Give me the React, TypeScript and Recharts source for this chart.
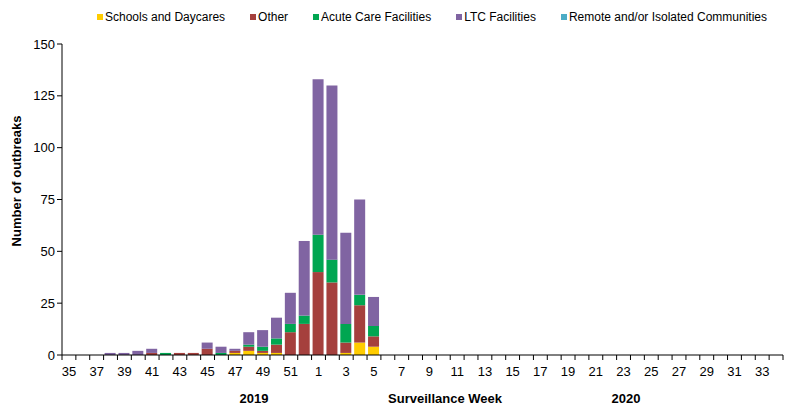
import React from 'react';
import { BarChart, Bar, XAxis, YAxis, Legend } from 'recharts';

const weeks = [
  '35', '36', '37', '38', '39', '40', '41', '42', '43', '44', '45', '46', '47', '48', '49', '50', '51', '52',
  '1', '2', '3', '4', '5', '6', '7', '8', '9', '10', '11', '12', '13', '14', '15', '16', '17', '18', '19', '20',
  '21', '22', '23', '24', '25', '26', '27', '28', '29', '30', '31', '32', '33', '34',
];

// 2019 wk35 .. 2020 wk5, the rest of the season is zero
const schools = [0, 0, 0, 0, 0, 0, 0, 0, 0, 0, 0, 0, 1, 2, 1, 1, 0, 0, 0, 0, 1, 6, 4];
const other = [0, 0, 0, 0, 0, 0, 1, 0, 1, 1, 3, 0, 1, 2, 1, 4, 11, 15, 40, 35, 5, 18, 5];
const acute = [0, 0, 0, 0, 0, 0, 0, 1, 0, 0, 0, 1, 0, 1, 2, 3, 4, 4, 18, 11, 9, 5, 5];
const ltc = [0, 0, 0, 1, 1, 2, 2, 0, 0, 0, 3, 3, 1, 6, 8, 10, 15, 36, 75, 84, 44, 46, 14];
const remote = [0, 0, 0, 0, 0, 0, 0, 0, 0, 0, 0, 0, 0, 0, 0, 0, 0, 0, 0, 0, 0, 0, 0];

const yTicks = [0, 25, 50, 75, 100, 125, 150];

const series = [
  { key: 'schools', name: 'Schools and Daycares', color: '#FFCC00' },
  { key: 'other', name: 'Other', color: '#A5403D' },
  { key: 'acute', name: 'Acute Care Facilities', color: '#00A651' },
  { key: 'ltc', name: 'LTC Facilities', color: '#8064A2' },
  { key: 'remote', name: 'Remote and/or Isolated Communities', color: '#4BACC6' },
];

const data = weeks.map((w, i) => ({
  week: w,
  schools: schools[i] ?? 0,
  other: other[i] ?? 0,
  acute: acute[i] ?? 0,
  ltc: ltc[i] ?? 0,
  remote: remote[i] ?? 0,
}));

const W = 796;
const H = 413;
const M = { top: 30, right: 13, left: 0, bottom: 0 };
const Y_W = 62;
const X_H = 58;
const bandW = (W - M.right - Y_W) / weeks.length;
const font = 'Liberation Sans, Arial, sans-serif';

const WeekTick = (props: any) => {
  const { x, y, payload } = props;
  const idx = props.index ?? payload.index ?? 0;
  const left = x - bandW / 2;
  return (
    <g>
      <line x1={left} x2={left} y1={y - 7} y2={y - 2} stroke="#000" />
      {idx === weeks.length - 1 && (
        <line x1={x + bandW / 2} x2={x + bandW / 2} y1={y - 7} y2={y - 2} stroke="#000" />
      )}
      {idx % 2 === 0 && (
        <text x={x} y={y} dy={14} textAnchor="middle" fontSize={13} fill="#000" fontFamily={font}>
          {payload.value}
        </text>
      )}
    </g>
  );
};

const LegendBox = () => (
  <div style={{ display: 'flex', gap: 25, fontFamily: font, fontSize: 12, color: '#000' }}>
    {series.map((s) => (
      <div key={s.key} style={{ display: 'flex', alignItems: 'center', whiteSpace: 'nowrap' }}>
        <span style={{ width: 6, height: 6, background: s.color, marginRight: 2, display: 'inline-block' }} />
        {s.name}
      </div>
    ))}
  </div>
);

const boldText: React.CSSProperties = {
  position: 'absolute',
  fontFamily: font,
  fontWeight: 'bold',
  fontSize: 13,
  color: '#000',
  whiteSpace: 'nowrap',
  transform: 'translate(-50%, -50%)',
};

export default function App() {
  return (
    <div style={{ position: 'absolute', left: 0, top: 0, width: W, height: H, background: '#fff' }}>
      <BarChart width={W} height={H} data={data} margin={M} barSize={11}>
        <XAxis
          dataKey="week"
          interval={0}
          height={X_H}
          tickLine={false}
          tickSize={5}
          tick={<WeekTick />}
          axisLine={{ stroke: '#000' }}
        />
        <YAxis
          width={Y_W}
          domain={[0, 150]}
          ticks={yTicks}
          interval={0}
          tickSize={5}
          tickLine={{ stroke: '#000' }}
          axisLine={{ stroke: '#000' }}
          tick={{ fontSize: 13, fill: '#000', fontFamily: font }}
        />
        <Legend
          verticalAlign="top"
          align="left"
          content={<LegendBox />}
          wrapperStyle={{ top: 10, left: 97, width: 'auto' }}
        />
        {series.map((s) => (
          <Bar key={s.key} dataKey={s.key} name={s.name} stackId="a" fill={s.color} isAnimationActive={false} />
        ))}
      </BarChart>
      <div style={{ ...boldText, left: 16, top: 181, transform: 'translate(-50%, -50%) rotate(-90deg)' }}>
        Number of outbreaks
      </div>
      <div style={{ ...boldText, left: 254, top: 398 }}>2019</div>
      <div style={{ ...boldText, left: 445, top: 398 }}>Surveillance Week</div>
      <div style={{ ...boldText, left: 626, top: 398 }}>2020</div>
    </div>
  );
}
